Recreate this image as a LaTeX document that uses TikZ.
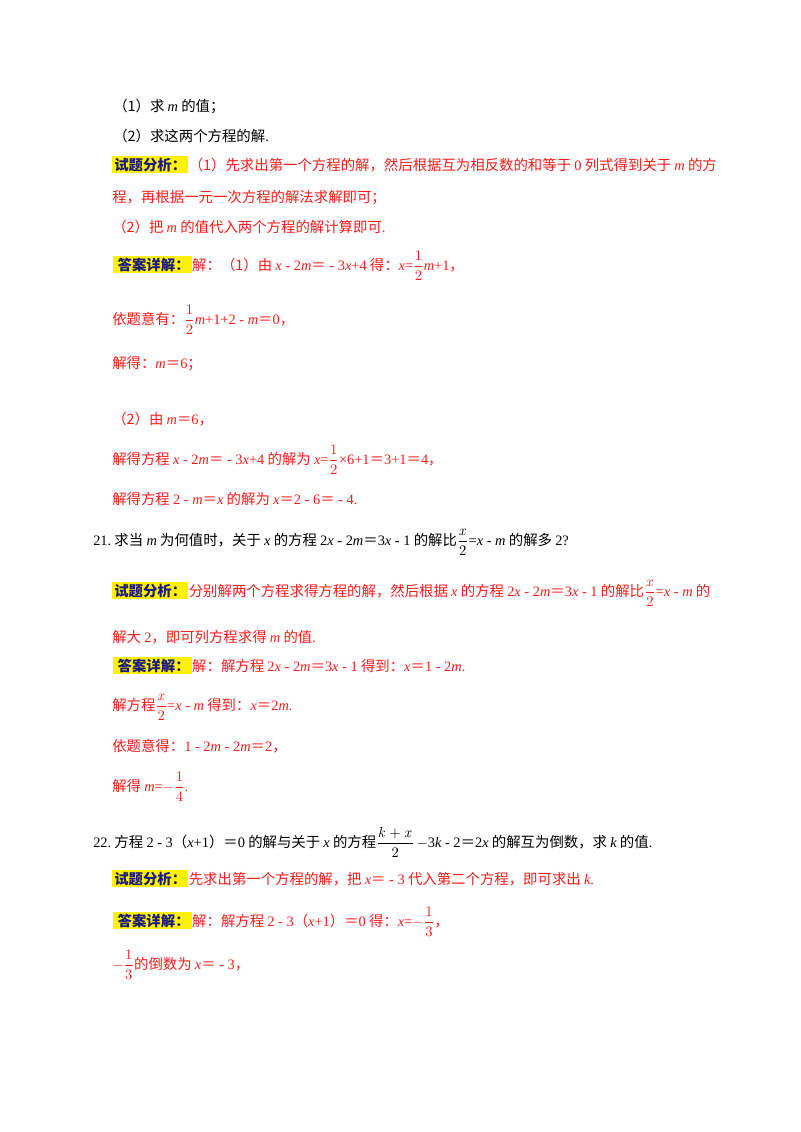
\documentclass[tikz,border=0pt]{standalone}
\usepackage{amsmath}
\usepackage[no-math]{fontspec}
\setmainfont{Noto Sans CJK SC}
\newfontfamily\lat{Liberation Serif}
\newcommand\mi[1]{{\lat\itshape #1}}
\newcommand\tn[1]{{\lat #1}}
\newcommand\fr[2]{$\dfrac{\mathrm{#1}}{\mathrm{#2}}$}
\definecolor{ansred}{HTML}{FF1A1A}
\definecolor{lblblue}{HTML}{1A1A80}
\tikzset{
 t/.style={anchor=base west,inner sep=0pt,font=\fontsize{10.8}{12}\selectfont},
 r/.style={t,text=ansred},
 lbl/.style={anchor=base west,inner sep=1.5pt,fill=yellow,text=lblblue,font=\fontsize{10.8}{12}\selectfont\bfseries}
}
\begin{document}
\begin{tikzpicture}[x=0.75pt,y=-0.75pt]
\useasboundingbox (0,0) rectangle (800,1132);
\node[t] (a1) at (113,111) {（1）求 \mi{m} 的值；};
\node[t] (a2) at (113,141) {（2）求这两个方程的解\tn{.}};
\node[lbl] (l1) at (112,170) {试题分析：};
\node[r,anchor=base west] (b1) at (l1.base east) {（1）先求出第一个方程的解，然后根据互为相反数的和等于 \tn{0} 列式得到关于 \mi{m} 的方};
\node[r] (b2) at (112,202) {程，再根据一元一次方程的解法求解即可；};
\node[r] (b3) at (112,232) {（2）把 \mi{m} 的值代入两个方程的解计算即可\tn{.}};
\node[lbl] (l2) at (113,270) {\,答案详解：};
\node[r,anchor=base west] (c1) at (l2.base east) {解：（1）由 \mi{x}\tn{ - 2}\mi{m}＝\tn{ - 3}\mi{x}\tn{+4} 得：\mi{x}\tn{=}\fr12\mi{m}\tn{+1}，};
\node[r] (c2) at (112,324) {依题意有：\fr12\mi{m}\tn{+1+2 - }\mi{m}＝\tn{0}，};
\node[r] (c3) at (112,368) {解得：\mi{m}＝\tn{6}；};
\node[r] (c4) at (112,424) {（2）由 \mi{m}＝\tn{6}，};
\node[r] (c5) at (112,464) {解得方程 \mi{x}\tn{ - 2}\mi{m}＝\tn{ - 3}\mi{x}\tn{+4} 的解为 \mi{x}\tn{=}\fr12\tn{×6+1}＝\tn{3+1}＝\tn{4}，};
\node[r] (c6) at (112,504) {解得方程 \tn{2 - }\mi{m}＝\mi{x} 的解为 \mi{x}＝\tn{2 - 6}＝\tn{ - 4.}};
\node[t] (q21) at (93,545) {\tn{21.}\ 求当 \mi{m} 为何值时，关于 \mi{x} 的方程 \tn{2}\mi{x}\tn{ - 2}\mi{m}＝\tn{3}\mi{x}\tn{ - 1} 的解比\fr{\mathit{x}}{2}\tn{=}\mi{x}\tn{ - }\mi{m} 的解多 \tn{2?}};
\node[lbl] (l3) at (112,596) {试题分析：};
\node[r,anchor=base west] (d1) at (l3.base east) {分别解两个方程求得方程的解，然后根据 \mi{x} 的方程 \tn{2}\mi{x}\tn{ - 2}\mi{m}＝\tn{3}\mi{x}\tn{ - 1} 的解比\fr{\mathit{x}}{2}\tn{=}\mi{x}\tn{ - }\mi{m} 的};
\node[r] (d2) at (112,642) {解大 \tn{2}，即可列方程求得 \mi{m} 的值\tn{.}};
\node[lbl] (l4) at (113,671) {\,答案详解：};
\node[r,anchor=base west] (d3) at (l4.base east) {解：解方程 \tn{2}\mi{x}\tn{ - 2}\mi{m}＝\tn{3}\mi{x}\tn{ - 1} 得到：\mi{x}＝\tn{1 - 2}\mi{m}\tn{.}};
\node[r] (d4) at (112,710) {解方程\fr{\mathit{x}}{2}\tn{=}\mi{x}\tn{ - }\mi{m} 得到：\mi{x}＝\tn{2}\mi{m}\tn{.}};
\node[r] (d5) at (112,751) {依题意得：\tn{1 - 2}\mi{m}\tn{ - 2}\mi{m}＝\tn{2}，};
\node[r] (d6) at (112,791) {解得 \mi{m}\tn{=}$-$\fr14\tn{.}};
\node[t] (q22) at (93,847) {\tn{22.}\ 方程 \tn{2 - 3}（\mi{x}\tn{+1}）＝\tn{0} 的解与关于 \mi{x} 的方程\fr{\mathit{k}+\mathit{x}}{2}\,\tn{$-$3}\mi{k}\tn{ - 2}＝\tn{2}\mi{x} 的解互为倒数，求 \mi{k} 的值\tn{.}};
\node[lbl] (l5) at (112,884) {试题分析：};
\node[r,anchor=base west] (e1) at (l5.base east) {先求出第一个方程的解，把 \mi{x}＝\tn{ - 3} 代入第二个方程，即可求出 \mi{k}\tn{.}};
\node[lbl] (l6) at (113,926) {\,答案详解：};
\node[r,anchor=base west] (e2) at (l6.base east) {解：解方程 \tn{2 - 3}（\mi{x}\tn{+1}）＝\tn{0} 得：\mi{x}\tn{=}$-$\fr13，};
\node[r] (e3) at (112,969) {$-$\fr13的倒数为 \mi{x}＝\tn{ - 3}，};
\end{tikzpicture}
\end{document}
